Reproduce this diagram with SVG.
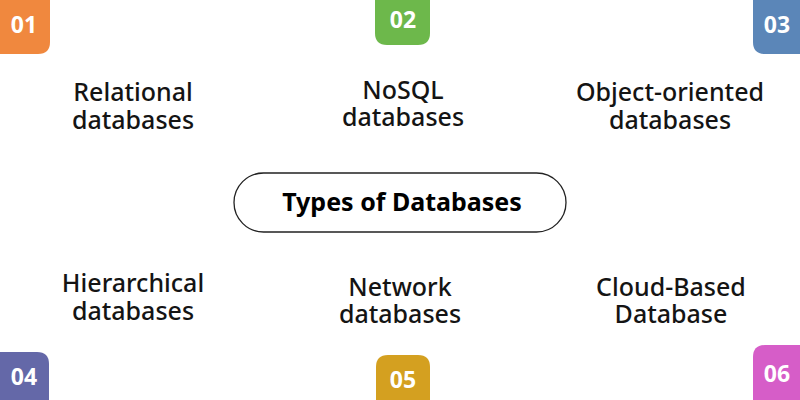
<svg xmlns="http://www.w3.org/2000/svg" width="800" height="400" viewBox="0 0 800 400">
<style>
.lbl{font-family:"Noto Sans","Open Sans",sans-serif;font-size:25px;font-weight:500;fill:#141414;text-anchor:middle}
.num{font-family:"Noto Sans","Open Sans",sans-serif;font-size:23px;font-weight:700;fill:#ffffff;text-anchor:middle}
.title{font-family:"Noto Sans","Open Sans",sans-serif;font-size:25px;font-weight:700;fill:#000;text-anchor:middle}
</style>
<rect width="800" height="400" fill="#ffffff"/>
<g id="center">
<rect x="234" y="173" width="332" height="59" rx="29.5" fill="#fff" stroke="#222" stroke-width="1.3"/>
<text class="title" x="402" y="211">Types of Databases</text>
</g>
<g id="connectors"></g>
<g id="n01">
<path d="M0 0H50V42Q50 54 38 54H0Z" fill="#F0883E"/>
<text class="num" x="24" y="33">01</text>
<text class="lbl" x="133" y="101">Relational</text>
<text class="lbl" x="133" y="129">databases</text>
</g>
<g id="n02">
<path d="M375 0H430V33Q430 45 418 45H387Q375 45 375 33Z" fill="#6DB84B"/>
<text class="num" x="403" y="28">02</text>
<text class="lbl" x="403" y="99">NoSQL</text>
<text class="lbl" x="403" y="126">databases</text>
</g>
<g id="n03">
<path d="M753 0H800V54H765Q753 54 753 42Z" fill="#5B86B8"/>
<text class="num" x="777" y="33">03</text>
<text class="lbl" x="670" y="101">Object-oriented</text>
<text class="lbl" x="670" y="129">databases</text>
</g>
<g id="n04">
<path d="M0 352H37Q49 352 49 364V400H0Z" fill="#6468A8"/>
<text class="num" x="24" y="385">04</text>
<text class="lbl" x="133" y="292">Hierarchical</text>
<text class="lbl" x="133" y="320">databases</text>
</g>
<g id="n05">
<path d="M376 400V367Q376 355 388 355H418Q430 355 430 367V400Z" fill="#D4A020"/>
<text class="num" x="403" y="388">05</text>
<text class="lbl" x="400" y="296">Network</text>
<text class="lbl" x="400" y="323">databases</text>
</g>
<g id="n06">
<path d="M753 400V357Q753 345 765 345H800V400Z" fill="#D65DC8"/>
<text class="num" x="777" y="382">06</text>
<text class="lbl" x="671" y="296">Cloud-Based</text>
<text class="lbl" x="671" y="323">Database</text>
</g>
</svg>
